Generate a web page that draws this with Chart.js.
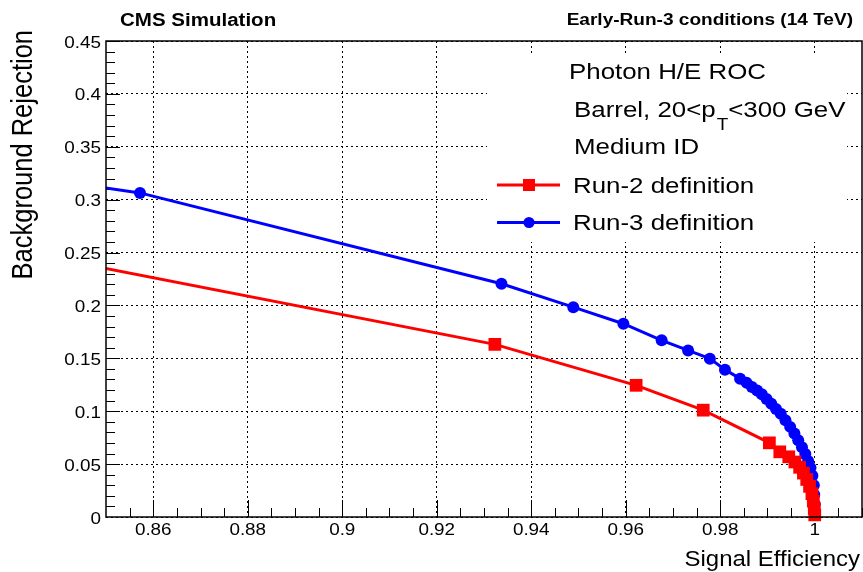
<!DOCTYPE html>
<html>
<head>
<meta charset="utf-8">
<script src="https://cdn.jsdelivr.net/npm/chart.js@4.4.1/dist/chart.umd.min.js"></script>
<style>
  html, body { margin: 0; padding: 0; background: #fff; }
  #wrap { width: 863px; height: 572px; }
</style>
</head>
<body>
<div id="wrap"><canvas id="grafico" width="863" height="572"></canvas></div>
<script>
// pontos (eficiencia do sinal x rejeicao do fundo)
// o primeiro ponto de cada curva fica fora do eixo, so pra linha chegar na borda
const run2_eff = [0.84, 0.9323, 0.9622, 0.9764, 0.9904, 0.9926, 0.9945, 0.9958, 0.9968, 0.9976, 0.9983, 0.9989, 0.9994, 0.9997, 0.9999, 1.0];
const run2_rej = [0.2437, 0.1632, 0.1245, 0.1010, 0.0701, 0.0616, 0.0569, 0.0520, 0.0470, 0.0415, 0.0355, 0.0290, 0.0220, 0.0150, 0.0080, 0.0020];

const run3_eff = [0.84, 0.8572, 0.9337, 0.9489, 0.9595, 0.9676, 0.9732, 0.9778, 0.9810, 0.9842, 0.9856, 0.9867, 0.9878, 0.9888, 0.9898, 0.9908, 0.9918, 0.9928, 0.9938, 0.9948, 0.9957, 0.9965, 0.9973, 0.9980, 0.9986, 0.9991, 0.9995, 0.9998, 0.9999, 1.0];
const run3_rej = [0.3174, 0.3064, 0.2205, 0.1984, 0.1827, 0.1670, 0.1575, 0.1497, 0.1393, 0.1308, 0.1268, 0.1230, 0.1195, 0.1160, 0.1115, 0.1070, 0.1022, 0.0975, 0.0915, 0.0852, 0.0790, 0.0726, 0.0660, 0.0595, 0.0530, 0.0465, 0.0390, 0.0300, 0.0210, 0.0120];

// eixos
const x_ticks = [0.86, 0.88, 0.9, 0.92, 0.94, 0.96, 0.98, 1];
const x_labels = ["0.86", "0.88", "0.9", "0.92", "0.94", "0.96", "0.98", "1"];
const y_ticks = [0, 0.05, 0.1, 0.15, 0.2, 0.25, 0.3, 0.35, 0.4, 0.45];
const y_labels = ["0", "0.05", "0.1", "0.15", "0.2", "0.25", "0.3", "0.35", "0.4", "0.45"];
const x_minor = 0.005;
const y_minor = 0.01;

// textos
const titulo_esq = "CMS Simulation";
const titulo_dir = "Early-Run-3 conditions (14 TeV)";
const titulo_x = "Signal Efficiency";
const titulo_y = "Background Rejection";
const legenda_linhas = ["Photon H/E ROC", "Barrel, 20<p", "Medium ID"];
const nome_run2 = "Run-2 definition";
const nome_run3 = "Run-3 definition";

const FONTE = '"Liberation Sans", Arial, Helvetica, sans-serif';

// escreve texto meio "esticado" na horizontal, igual o ROOT faz
function escrever(ctx, s, x, y, tam, sx, alinha, negrito) {
  ctx.save();
  ctx.font = (negrito ? "bold " : "") + tam + "px " + FONTE;
  ctx.fillStyle = "#000";
  ctx.textBaseline = "alphabetic";
  ctx.textAlign = alinha;
  ctx.translate(x, y);
  ctx.scale(sx, 1);
  ctx.fillText(s, 0, 0);
  let w = ctx.measureText(s).width * sx;
  ctx.restore();
  return w;
}

const molduraPlugin = {
  id: "moldura",
  beforeDatasetsDraw(chart) {
    const ctx = chart.ctx;
    const ca = chart.chartArea;
    const sx = chart.scales.x;
    const sy = chart.scales.y;
    ctx.save();
    ctx.strokeStyle = "#000";
    ctx.lineWidth = 1;
    // ticks do eixo x (dentro da moldura)
    for (let i = 1; i <= 32; i++) {
      let v = 0.85 + i * x_minor;
      let maior = x_ticks.some(t => Math.abs(t - v) < 1e-6);
      let px = Math.round(sx.getPixelForValue(v)) + 0.5;
      ctx.beginPath();
      ctx.moveTo(px, ca.bottom);
      ctx.lineTo(px, ca.bottom - (maior ? 17 : 9));
      ctx.stroke();
    }
    // ticks do eixo y
    for (let i = 1; i <= 45; i++) {
      let v = i * y_minor;
      let maior = y_ticks.some(t => Math.abs(t - v) < 1e-6);
      let py = Math.round(sy.getPixelForValue(v)) + 0.5;
      ctx.beginPath();
      ctx.moveTo(ca.left, py);
      ctx.lineTo(ca.left + (maior ? 14 : 9), py);
      ctx.stroke();
    }
    ctx.restore();
  },
  afterDraw(chart) {
    const ctx = chart.ctx;
    const ca = chart.chartArea;
    const sx = chart.scales.x;
    const sy = chart.scales.y;

    // moldura
    ctx.save();
    ctx.strokeStyle = "#000";
    ctx.lineWidth = 1.5;
    ctx.strokeRect(ca.left, ca.top, ca.right - ca.left, ca.bottom - ca.top);
    ctx.restore();

    // rotulos dos ticks
    x_ticks.forEach((v, k) => {
      escrever(ctx, x_labels[k], sx.getPixelForValue(v), 535, 16, 1.18, "center", false);
    });
    y_ticks.forEach((v, k) => {
      escrever(ctx, y_labels[k], 101, sy.getPixelForValue(v) + 6.5, 16, 1.18, "right", false);
    });

    // titulos dos eixos
    escrever(ctx, titulo_x, 860, 566, 22, 1.09, "right", false);
    ctx.save();
    ctx.font = "25.5px " + FONTE;
    ctx.fillStyle = "#000";
    ctx.textAlign = "right";
    ctx.textBaseline = "alphabetic";
    ctx.translate(32, 30);
    ctx.rotate(-Math.PI / 2);
    ctx.scale(1, 1.18);
    ctx.fillText(titulo_y, 0, 0);
    ctx.restore();

    // textos de cima
    escrever(ctx, titulo_esq, 120, 26, 18, 1.14, "left", true);
    escrever(ctx, titulo_dir, 853, 25, 16, 1.19, "right", true);

    // caixa da legenda (branca, cobre o grid)
    ctx.save();
    ctx.fillStyle = "#fff";
    ctx.fillRect(487, 56, 360, 186);
    ctx.restore();

    escrever(ctx, legenda_linhas[0], 569, 79, 22, 1.176, "left", false);
    let w = escrever(ctx, legenda_linhas[1], 574, 117, 22, 1.176, "left", false);
    let w2 = escrever(ctx, "T", 574 + w + 1, 130, 16, 1.18, "left", false);
    escrever(ctx, "<300 GeV", 574 + w + 1 + w2, 117, 22, 1.176, "left", false);
    escrever(ctx, legenda_linhas[2], 574, 154, 22, 1.176, "left", false);
    escrever(ctx, nome_run2, 573, 193, 22, 1.176, "left", false);
    escrever(ctx, nome_run3, 573, 230, 22, 1.176, "left", false);

    // simbolos da legenda
    ctx.save();
    ctx.lineWidth = 3;
    ctx.strokeStyle = "#ff0000";
    ctx.beginPath(); ctx.moveTo(497, 185); ctx.lineTo(560, 185); ctx.stroke();
    ctx.fillStyle = "#ff0000";
    ctx.fillRect(523, 179, 12, 12);
    ctx.strokeStyle = "#0000ff";
    ctx.beginPath(); ctx.moveTo(497, 222.5); ctx.lineTo(560, 222.5); ctx.stroke();
    ctx.fillStyle = "#0000ff";
    ctx.beginPath(); ctx.arc(529, 222.5, 5.5, 0, Math.PI * 2); ctx.fill();
    ctx.restore();
  }
};

let pontos_run2 = [];
run2_eff.forEach((e, i) => { pontos_run2.push({ x: e, y: run2_rej[i] }); });
let pontos_run3 = [];
run3_eff.forEach((e, i) => { pontos_run3.push({ x: e, y: run3_rej[i] }); });

let ctx = document.getElementById("grafico");
let grafico = new Chart(ctx, {
  type: "line",
  data: {
    datasets: [
      {
        // vermelho vem primeiro pra ficar por cima do azul
        label: nome_run2,
        data: pontos_run2,
        borderColor: "#ff0000",
        backgroundColor: "#ff0000",
        borderWidth: 3,
        pointStyle: "rect",
        pointRadius: 9,
        pointBorderWidth: 0,
        pointHoverRadius: 9,
        tension: 0,
        clip: { left: 0, top: 0, right: 0, bottom: 8 }
      },
      {
        label: nome_run3,
        data: pontos_run3,
        borderColor: "#0000ff",
        backgroundColor: "#0000ff",
        borderWidth: 3,
        pointStyle: "circle",
        pointRadius: 6,
        pointBorderWidth: 0,
        pointHoverRadius: 6,
        tension: 0,
        clip: { left: 0, top: 0, right: 0, bottom: 8 }
      }
    ]
  },
  options: {
    responsive: false,
    animation: false,
    events: [],
    layout: { autoPadding: false, padding: { left: 106, right: 1, top: 41, bottom: 55 } },
    plugins: { legend: { display: false }, tooltip: { enabled: false } },
    scales: {
      x: {
        type: "linear",
        min: 0.85,
        max: 1.01,
        afterBuildTicks: s => { s.ticks = x_ticks.map(v => ({ value: v })); },
        afterFit: s => { s.height = 0; },
        ticks: { display: false },
        grid: { color: "#000", lineWidth: 1, drawTicks: false },
        border: { display: false, dash: [2, 3] }
      },
      y: {
        type: "linear",
        min: 0,
        max: 0.45,
        afterBuildTicks: s => { s.ticks = y_ticks.map(v => ({ value: v })); },
        afterFit: s => { s.width = 0; },
        ticks: { display: false },
        grid: { color: "#000", lineWidth: 1, drawTicks: false },
        border: { display: false, dash: [2, 3] }
      }
    }
  },
  plugins: [molduraPlugin]
});
</script>
</body>
</html>
